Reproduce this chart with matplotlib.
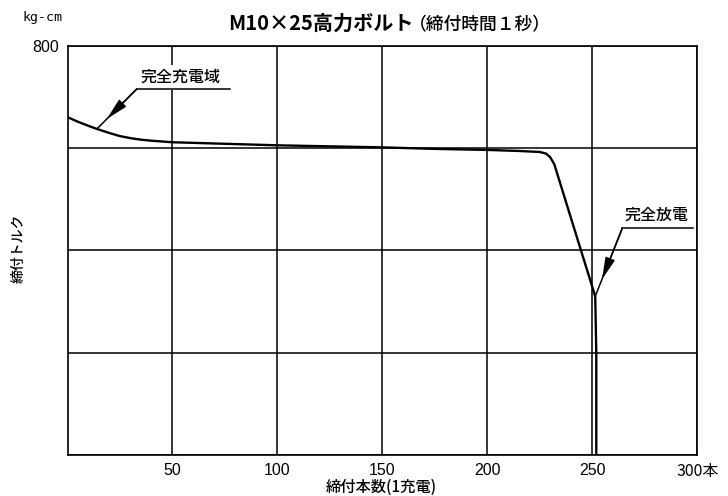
import numpy as np
import matplotlib
matplotlib.use("Agg")
import matplotlib.pyplot as plt
import matplotlib.transforms as mtransforms

# ---- data ----
count = [0, 5, 10, 14, 20, 25, 30, 35, 40, 45, 50, 75, 100, 125, 150, 175, 200, 215, 225,
         228, 230, 232, 240, 251.5, 252, 252]
torque = [660, 651, 643, 637, 629, 623, 619, 616, 614, 612.5, 611, 608, 605, 603, 601, 598,
          596, 594, 592, 589, 582, 568, 462, 310, 200, 0]

x_ticks = [50, 100, 150, 200, 250, 300]
x_tick_labels = ["50", "100", "150", "200", "250", "300本"]
y_ticks = [0, 200, 400, 600, 800]
y_tick_labels = ["", "", "", "", "800"]

title_main = "M10×25高力ボルト"
title_sub = "（締付時間１秒）"
unit_label = "kg-cm"
x_label = "締付本数(1充電)"
y_label = "締付トルク"
note_full = "完全充電域"
note_empty = "完全放電"

JP = ["Noto Sans CJK JP", "DejaVu Sans"]
NUM = ["Liberation Sans Narrow", "Liberation Sans", "DejaVu Sans"]

W, H = 728, 496
fig = plt.figure(figsize=(W / 100, H / 100), dpi=100)
fig.patch.set_facecolor("white")
L, R, T, B = 67.5, 697, 45.5, 455
ax = fig.add_axes([L / W, 1 - B / H, (R - L) / W, (B - T) / H])

ax.set_xlim(0, 300)
ax.set_ylim(0, 800)
ax.set_xticks(x_ticks)
ax.set_xticklabels(x_tick_labels)
ax.set_yticks(y_ticks)
ax.set_yticklabels(y_tick_labels)
ax.tick_params(length=0, labelsize=11.5, colors="black")
ax.tick_params(axis="x", pad=6)
ax.tick_params(axis="y", pad=6)
for lab in ax.get_xticklabels() + ax.get_yticklabels():
    if "本" in lab.get_text():
        lab.set_family(JP[:1] + NUM)
        lab.set_fontsize(11.5)
        lab.set_horizontalalignment("left")
    else:
        lab.set_family(NUM + JP[:1])
last = ax.get_xticklabels()[-1]
last.set_transform(last.get_transform() + mtransforms.ScaledTranslation(-21 / 100, 0, fig.dpi_scale_trans))

ax.grid(True, color="black", lw=1.1)
for s in ax.spines.values():
    s.set_linewidth(1.2)
    s.set_color("black")

ax.plot(count, torque, color="black", lw=1.7, zorder=3, solid_joinstyle="round")

# ---- annotations ----
def leader(corner, end, tip, text, text_xy):
    ax.plot([corner[0], end[0]], [corner[1], end[1]], color="black", lw=1.1, zorder=5)
    ax.annotate("", xy=tip, xytext=corner,
                arrowprops=dict(arrowstyle="-", lw=1.1, color="black", shrinkA=0, shrinkB=0),
                zorder=5)
    mid = (corner[0] + 0.75 * (tip[0] - corner[0]), corner[1] + 0.75 * (tip[1] - corner[1]))
    ax.annotate("", xy=mid, xytext=corner,
                arrowprops=dict(arrowstyle="-|>,head_length=1.1,head_width=0.25", lw=1.1,
                                color="black", shrinkA=0, shrinkB=0, mutation_scale=12),
                zorder=5)
    ax.text(text_xy[0], text_xy[1], text, ha="center", va="center", fontsize=11.5,
            family=JP, fontweight="medium", zorder=4,
            bbox=dict(facecolor="white", edgecolor="none", pad=3))

tip1 = (14, float(np.interp(14, count, torque)))
leader((33, 715), (77.5, 715), tip1, note_full, (54, 738))
imin = int(np.argmin(torque[:-2]))
tip2 = (count[imin], torque[imin])
leader((264.4, 443), (298.3, 443), tip2, note_empty, (280.6, 469))

# ---- titles & labels ----
fig.text(228 / W, 1 - 23 / H, title_main, ha="left", va="center", fontsize=14.5,
         fontweight="bold", family=JP)
fig.text(409 / W, 1 - 25 / H, title_sub, ha="left", va="center", fontsize=12.8,
         fontweight="medium", family=JP)
fig.text(43 / W, 1 - 18 / H, unit_label, ha="center", va="center", fontsize=9.5,
         family=["DejaVu Sans Mono"])
fig.text(381 / W, 1 - 487 / H, x_label, ha="center", va="center", fontsize=11,
         fontweight="medium", family=JP)
fig.text(19 / W, 1 - 248 / H, y_label, ha="center", va="center", fontsize=10,
         fontweight="medium", rotation=90, family=JP)

fig.savefig("out.png", dpi=100)
